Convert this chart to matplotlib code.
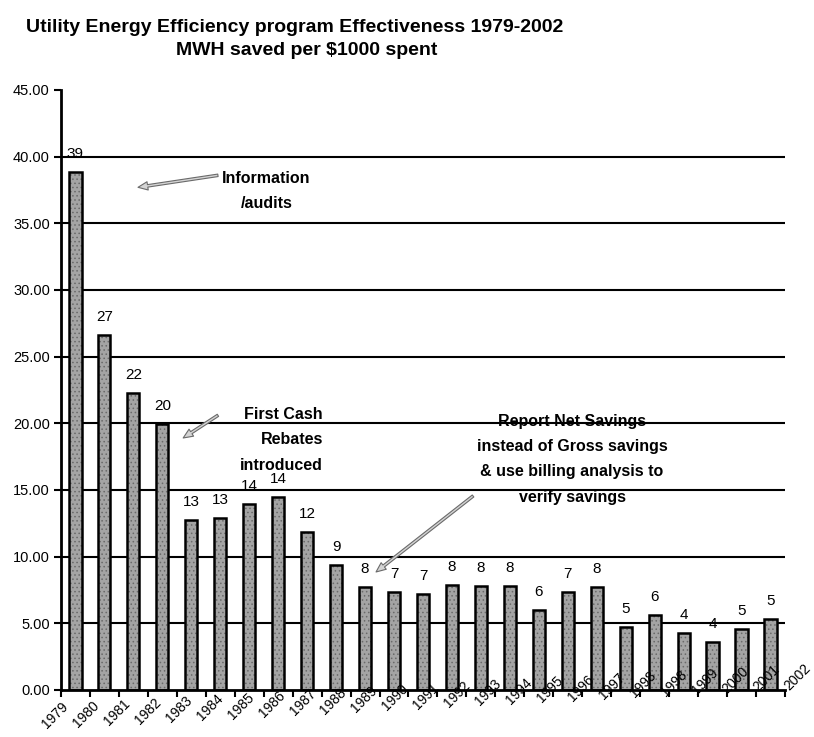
import matplotlib
matplotlib.use("Agg")
import matplotlib.pyplot as plt
import numpy as np

plt.rcParams["font.family"] = ["Liberation Sans", "DejaVu Sans"]
plt.rcParams["hatch.linewidth"] = 0.6

# MWH saved per $1000 spent, one bar per program year
mwh_per_1000 = [38.85, 26.6, 22.3, 19.95, 12.75, 12.9, 13.95, 14.45, 11.85, 9.4,
                7.7, 7.35, 7.2, 7.9, 7.8, 7.8, 6.0, 7.35, 7.75, 4.75,
                5.6, 4.3, 3.6, 4.55, 5.3]
year_labels = ["1979", "1980", "1981", "1982", "1983", "1984", "1985", "1986",
               "1987", "1988", "1989", "1990", "1991", "1992", "1993", "1994",
               "1995", "1996", "1997", "1998", "1998", "1999", "2000", "2001",
               "2002"]
y_ticks = [0, 5, 10, 15, 20, 25, 30, 35, 40, 45]

title_lines = ["Utility Energy Efficiency program Effectiveness 1979-2002",
               "MWH saved per $1000 spent"]

notes = [
    # text, text position, arrow tail, arrow head, alignment
    ("Information\n/audits", (6.6, 37.4), (4.92, 38.6), (2.16, 37.7), "center"),
    ("First Cash\nRebates\nintroduced", (8.55, 18.75), (4.92, 20.6), (3.72, 18.9), "right"),
    ("Report Net Savings\ninstead of Gross savings\n& use billing analysis to\nverify savings",
     (17.15, 17.3), (13.73, 14.55), (10.38, 8.85), "center"),
]

fig = plt.figure(figsize=(8.14, 7.37), dpi=100)
ax = fig.add_axes([0.0749, 0.0638, 0.8894, 0.8141])

x = np.arange(len(mwh_per_1000))

# horizontal rules behind the bars (none on the top edge)
ax.hlines(y_ticks[1:-1], -0.5, len(x) - 0.5, color="black", lw=1.5, zorder=1)

# stippled fill, then a black outline on top
ax.bar(x, mwh_per_1000, width=0.42, color="#a4a4a4", hatch="....",
       edgecolor="#6a6a6a", linewidth=0, zorder=2)
ax.bar(x, mwh_per_1000, width=0.42, fill=False, edgecolor="black",
       linewidth=1.8, zorder=3)

for xi, v in zip(x, mwh_per_1000):
    ax.annotate(f"{int(v + 0.5)}", (xi, v), xytext=(0, 10), textcoords="offset points",
                ha="center", va="baseline", fontsize=11, zorder=4)

ax.set_xlim(-0.5, len(x) - 0.5)
ax.set_ylim(0, 45)
ax.set_yticks(y_ticks)
ax.set_yticklabels([f"{t:.2f}" for t in y_ticks], fontsize=10.5)
ax.tick_params(axis="y", direction="out", length=5, width=1.5, pad=3)

ax.set_xticks([])
ax.set_xticks(np.arange(-0.5, len(x), 1), minor=True)
ax.tick_params(axis="x", which="minor", direction="out", length=5, width=1.5)

# year labels run on a slight slant across the bottom
label_x = np.linspace(-0.15, 25.47, len(year_labels))
label_y = np.linspace(-0.75, 2.2, len(year_labels))
for lx, ly, lab in zip(label_x, label_y, year_labels):
    ax.text(lx, ly, lab, rotation=45, ha="right", va="top", fontsize=10,
            clip_on=False, zorder=5)

for side in ["top", "right"]:
    ax.spines[side].set_visible(False)
ax.spines["left"].set_linewidth(2)
ax.spines["bottom"].set_linewidth(2)

for text, pos, tail, head, align in notes:
    ax.text(pos[0], pos[1], text, ha="right" if align == "right" else "center",
            va="center", multialignment=align, fontsize=11.5, fontweight="bold",
            linespacing=1.85, zorder=6)
    ax.annotate("", xy=head, xytext=tail,
                arrowprops=dict(arrowstyle="simple,head_length=0.7,head_width=0.6,tail_width=0.18",
                                fc="#d4d4d4", ec="#6a6a6a", lw=0.8, shrinkA=0, shrinkB=0),
                zorder=6)

fig.text(0.362, 0.9566, title_lines[0], ha="center", va="baseline",
         fontsize=14, fontweight="bold")
fig.text(0.377, 0.9254, title_lines[1], ha="center", va="baseline",
         fontsize=14, fontweight="bold")

fig.savefig("out.png", dpi=100, facecolor="white")
